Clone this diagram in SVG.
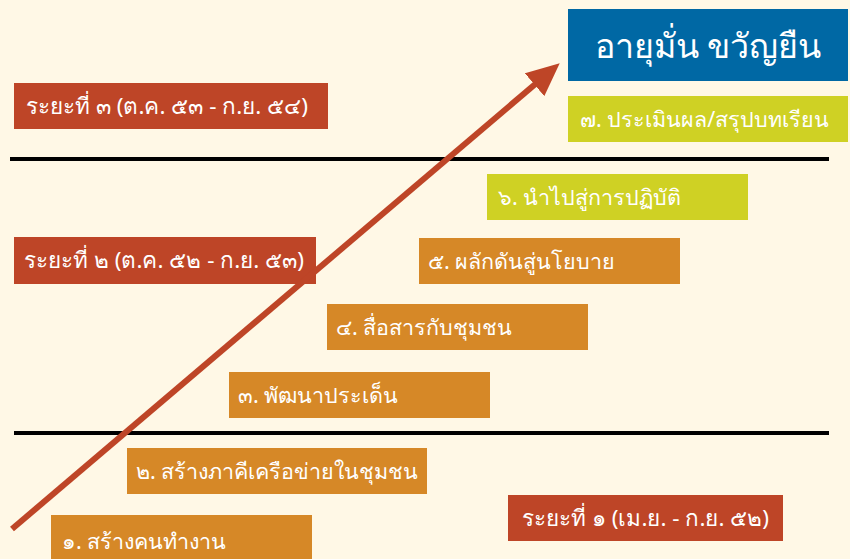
<svg xmlns="http://www.w3.org/2000/svg" width="850" height="559" viewBox="0 0 850 559">
<defs>
<style>
.t{font-family:"Noto Sans","DejaVu Sans",sans-serif;font-size:21.5px;fill:#ffffff;font-weight:normal}
.p{font-size:22.5px}
.red{fill:#be4527}.org{fill:#d68827}.yg{fill:#cfd124}.blue{fill:#0068a4}
.sep{stroke:#000;stroke-width:4}
</style>
<marker id="ah" markerWidth="5.5" markerHeight="5" refX="2.5" refY="2.5" orient="auto" markerUnits="strokeWidth">
<path d="M0,0 L5.5,2.5 L0,5 z" fill="#be4527"/>
</marker>
</defs>
<rect width="850" height="559" fill="#fff8e6"/>
<g id="separators">
<line class="sep" x1="10" y1="159" x2="829" y2="159"/>
<line class="sep" x1="14" y1="433" x2="829" y2="433"/>
</g>
<g id="phase3"><rect class="red" x="14" y="83" width="314" height="46"/><text class="t p" x="26" y="114">ระยะที่ ๓ (ต.ค. ๕๓ - ก.ย. ๕๔)</text></g>
<g id="phase2"><rect class="red" x="14" y="237" width="302" height="47"/><text class="t p" x="24" y="268">ระยะที่ ๒ (ต.ค. ๕๒ - ก.ย. ๕๓)</text></g>
<g id="phase1"><rect class="red" x="508" y="495" width="275" height="46"/><text class="t p" x="522" y="526">ระยะที่ ๑ (เม.ย. - ก.ย. ๕๒)</text></g>
<g id="title"><rect class="blue" x="568" y="9" width="280" height="72"/><text class="t" x="708" y="58" text-anchor="middle" style="font-size:34px">อายุมั่น ขวัญยืน</text></g>
<g id="step7"><rect class="yg" x="568" y="96" width="280" height="46"/><text class="t" x="580" y="127">๗. ประเมินผล/สรุปบทเรียน</text></g>
<g id="step6"><rect class="yg" x="487" y="174" width="261" height="46"/><text class="t" x="498" y="205">๖. นำไปสู่การปฏิบัติ</text></g>
<g id="step5"><rect class="org" x="419" y="238" width="261" height="46"/><text class="t" x="428" y="269">๕. ผลักดันสู่นโยบาย</text></g>
<g id="step4"><rect class="org" x="327" y="304" width="261" height="46"/><text class="t" x="336" y="335">๔. สื่อสารกับชุมชน</text></g>
<g id="step3"><rect class="org" x="229" y="372" width="261" height="46"/><text class="t" x="238" y="403">๓. พัฒนาประเด็น</text></g>
<g id="step2"><rect class="org" x="127" y="448" width="300" height="46"/><text class="t" x="136" y="479">๒. สร้างภาคีเครือข่ายในชุมชน</text></g>
<g id="step1"><rect class="org" x="51" y="515" width="261" height="50"/><text class="t" x="62" y="549">๑. สร้างคนทำงาน</text></g>
<g id="connectors">
<line x1="12" y1="529" x2="546" y2="75" stroke="#be4527" stroke-width="6" marker-end="url(#ah)"/>
</g>
</svg>
